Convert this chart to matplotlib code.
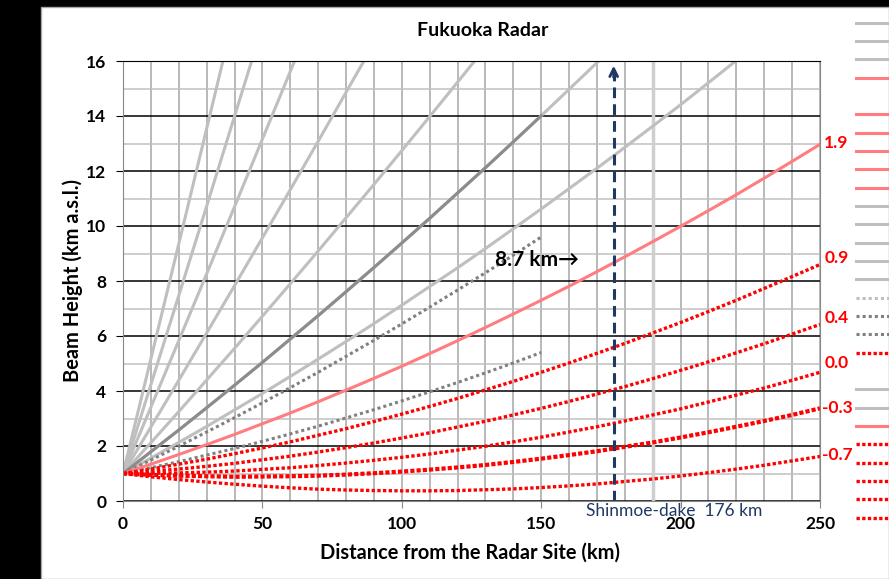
import numpy as np
import matplotlib.pyplot as plt
from matplotlib.lines import Line2D
from matplotlib.patches import Rectangle

plt.rcParams['font.family'] = ['Lato', 'DejaVu Sans']

# distance from radar (km), 10 km steps
dist = np.arange(0, 260, 10)

# beam heights (km a.s.l.), one list per elevation
h_24_6 = [1.00, 5.17, 9.35, 13.54, 17.75]
h_18_8 = [1.00, 4.23, 7.47, 10.72, 13.99, 17.26]
h_13_9 = [1.00, 3.41, 5.83, 8.26, 10.70, 13.16, 15.62, 18.10]
h_9_7 = [1.00, 2.69, 4.39, 6.11, 7.83, 9.57, 11.32, 13.08, 14.86, 16.64]
h_6_4 = [1.00, 2.12, 3.25, 4.40, 5.55, 6.72, 7.90, 9.09, 10.30, 11.51, 12.74,
         13.98, 15.23, 16.49]
h_4_5 = [1.00, 1.79, 2.58, 3.39, 4.21, 5.04, 5.89, 6.74, 7.61, 8.49, 9.38,
         10.28, 11.20, 12.12, 13.06, 14.01, 14.97, 15.94, 16.93]
h_3_2 = [1.00, 1.56, 2.13, 2.71, 3.31, 3.91, 4.53, 5.16, 5.80, 6.45, 7.12,
         7.80, 8.48, 9.18, 9.90, 10.62, 11.36, 12.10, 12.86, 13.63, 14.41,
         15.21, 16.02]
h_2_8 = [1.00, 1.49, 1.99, 2.51, 3.03, 3.57, 4.12, 4.68, 5.26, 5.84, 6.44,
         7.05, 7.67, 8.30, 8.94, 9.60]
h_1_9 = [1.00, 1.34, 1.69, 2.05, 2.42, 2.81, 3.20, 3.61, 4.03, 4.46, 4.90,
         5.36, 5.83, 6.31, 6.80, 7.30, 7.81, 8.34, 8.88, 9.43, 9.99, 10.56,
         11.14, 11.74, 12.35, 12.97]
h_1_2 = [1.00, 1.21, 1.43, 1.67, 1.91, 2.17, 2.44, 2.72, 3.02, 3.32, 3.64,
         3.97, 4.31, 4.66, 5.02, 5.40]
h_0_9 = [1.00, 1.16, 1.34, 1.52, 1.72, 1.93, 2.15, 2.39, 2.63, 2.89, 3.16,
         3.44, 3.73, 4.04, 4.35, 4.68, 5.02, 5.37, 5.73, 6.11, 6.49, 6.89,
         7.30, 7.73, 8.16, 8.60]
h_0_4 = [1.00, 1.08, 1.16, 1.26, 1.37, 1.50, 1.63, 1.78, 1.94, 2.11, 2.29,
         2.48, 2.69, 2.90, 3.13, 3.37, 3.62, 3.89, 4.16, 4.45, 4.75, 5.06,
         5.39, 5.72, 6.07, 6.42]
h_0_0 = [1.00, 1.01, 1.02, 1.05, 1.09, 1.15, 1.21, 1.29, 1.38, 1.48, 1.59,
         1.71, 1.85, 1.99, 2.15, 2.32, 2.51, 2.70, 2.91, 3.13, 3.35, 3.60,
         3.85, 4.11, 4.39, 4.68]
h_m0_3 = [1.00, 0.95, 0.92, 0.90, 0.88, 0.89, 0.90, 0.92, 0.96, 1.01, 1.07,
          1.14, 1.22, 1.31, 1.42, 1.54, 1.67, 1.81, 1.97, 2.13, 2.31, 2.50,
          2.70, 2.91, 3.13, 3.37]
h_m0_7 = [1.00, 0.88, 0.78, 0.69, 0.61, 0.54, 0.48, 0.43, 0.40, 0.38, 0.37,
          0.37, 0.38, 0.41, 0.44, 0.49, 0.55, 0.62, 0.71, 0.80, 0.91, 1.03,
          1.16, 1.30, 1.46, 1.62]

angle_labels = ['1.9', '0.9', '0.4', '0.0', '-0.3', '-0.7']
shinmoe_km = 176
other_km = 190

light = dict(color='#BFBFBF', lw=2.2)
dark = dict(color='#8C8C8C', lw=2.2)
pink = dict(color='#FF7C80', lw=2.2)
gdot = dict(color='#808080', lw=2.2, ls=(0, (1, 1)))
rdot = dict(color='#FF0000', lw=2.4, ls=(0, (1, 0.7)))
navy = '#1F3864'

fig = plt.figure(figsize=(8.89, 5.79), dpi=100, facecolor='black')
fig.add_artist(Rectangle((41/889, 0), 1 - 41/889, 1 - 7/579, transform=fig.transFigure,
                         facecolor='white', edgecolor='#A6A6A6', lw=1, zorder=-10))
ax = fig.add_axes([123/889, 78/579, 697/889, 440/579])

ax.plot([other_km, other_km], [0, 16], color='#CFCFCF', lw=2.5, zorder=1)

for h in [h_24_6, h_18_8, h_13_9, h_9_7, h_6_4, h_4_5, h_3_2]:
    ax.plot(dist[:len(h)], h, **light)
ax.plot(dist[:16], h_4_5[:16], **dark)
ax.plot(dist[:len(h_2_8)], h_2_8, **gdot)
ax.plot(dist[:len(h_1_2)], h_1_2, **gdot)
ax.plot(dist, h_1_9, **pink)
for h in [h_0_9, h_0_4, h_0_0, h_m0_7]:
    ax.plot(dist, h, **rdot)
ax.plot(dist, h_m0_3, color='#FF0000', lw=3.0, ls=(0, (1, 0.5)))

# elevation labels at the right end of each line
ends = [h_1_9[-1], h_0_9[-1], h_0_4[-1], h_0_0[-1], h_m0_3[-1], h_m0_7[-1]]
nudges = [0.05, 0.25, 0.22, 0.34, 0.0, 0.05]
for lab, e, n in zip(angle_labels, ends, nudges):
    x0 = 250.6 if lab.startswith('-') else 251.5
    ax.text(x0, e + n, lab, color='#FF0000', fontsize=12.5, fontweight='bold',
            ha='left', va='center', clip_on=False)

# Shinmoe-dake marker
ax.plot([shinmoe_km, shinmoe_km], [0, 15.8], color=navy, lw=2.2, ls=(0, (3.5, 2)))
ax.annotate('', xy=(shinmoe_km, 15.93), xytext=(shinmoe_km, 15.3),
            arrowprops=dict(arrowstyle='->', color=navy, lw=2, mutation_scale=14))
ax.text(197.6, -0.37, 'Shinmoe-dake  176 km', color=navy, fontsize=12.5,
        ha='center', va='center', clip_on=False)
ax.text(163.5, 8.75, '8.7 km\u2192', fontsize=15, fontweight='bold', ha='right', va='center')

ax.set_xlim(0, 250)
ax.set_ylim(0, 16)
ax.set_xticks(range(0, 251, 50))
ax.set_xticks(range(0, 251, 10), minor=True)
ax.set_yticks(range(0, 17, 2))
ax.set_yticks(range(0, 17, 1), minor=True)
ax.set_axisbelow(True)
ax.grid(axis='x', which='both', color='#A6A6A6', lw=1.1)
ax.grid(axis='y', which='major', color='black', lw=1.1)
ax.grid(axis='y', which='minor', color='#C0C0C0', lw=1.1)
for side in ['left', 'bottom', 'right']:
    ax.spines[side].set_color('#888888')
ax.spines['top'].set_color('black')
ax.tick_params(axis='x', which='major', direction='out', length=5, color='#888888',
               pad=6, labelsize=12.5)
ax.tick_params(axis='y', which='major', direction='out', length=5, color='black',
               pad=7, labelsize=12.5)
ax.tick_params(which='minor', length=0)
for t in ax.get_xticklabels() + ax.get_yticklabels():
    t.set_fontweight('bold')

ax.set_xlabel('Distance from the Radar Site (km)', fontsize=14.4, fontweight='bold')
ax.set_ylabel('Beam Height (km a.s.l.)', fontsize=14.4, fontweight='bold')
ax.xaxis.set_label_coords(0.498, -0.094)
ax.yaxis.set_label_coords(-0.058, 0.5)
fig.text(483/889, 1 - 31/579, 'Fukuoka Radar', fontsize=14, fontweight='bold',
         ha='center', va='center')

# legend, mostly cut off by the right edge of the picture
key_styles = ['light', 'light', 'light', 'pink', None, 'pink', 'pink', 'pink', 'pink',
              'pink', 'light', 'light', 'light', 'light', 'light', 'ldot', 'gdot',
              'gdot', 'rdot', None, 'light', 'light', 'pink', 'rdot', 'rdot', 'rdot',
              'rdot', 'rdot']
style_map = {'light': light, 'pink': pink, 'gdot': gdot, 'rdot': rdot,
             'ldot': dict(color='#BFBFBF', lw=2.2, ls=(0, (1, 1)))}
handles = []
for i, k in enumerate(key_styles):
    if k is None:
        handles.append(Line2D([], [], color='none', label=' '))
    else:
        handles.append(Line2D([], [], label='elev %d' % i, **style_map[k]))
fig.legend(handles=handles, loc='upper left', bbox_to_anchor=(856/889, 1 - 17.5/579),
           frameon=False, fontsize=8, handlelength=4, labelspacing=0.66,
           borderpad=0, borderaxespad=0, handletextpad=0.5)

fig.savefig('out.png', dpi=100)
